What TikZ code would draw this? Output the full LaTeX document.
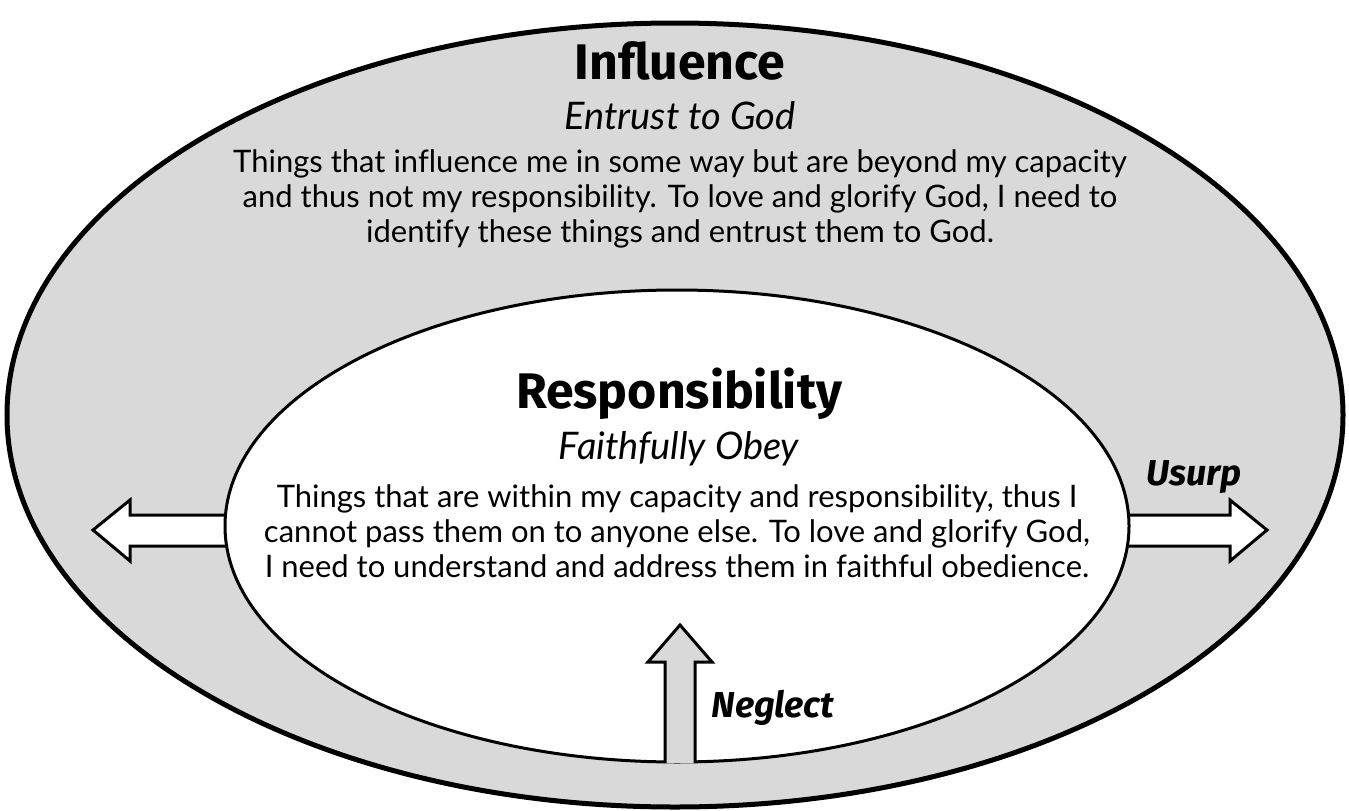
\documentclass[tikz,border=0pt]{standalone}
\usepackage{fontspec}
\setmainfont{Lato}[Ligatures=NoCommon]
\newfontfamily\headfont{Fira Sans}
\usetikzlibrary{shapes.geometric}

\definecolor{ringgray}{HTML}{D9D9D9}

\begin{document}
\begin{tikzpicture}[
            x = 1pt, y = -1pt, % pixel-like units
            ring/.style = {ellipse, draw = black, inner sep = 0pt},
            head/.style = {font = \headfont\bfseries\fontsize{50}{54}\selectfont},
            sub/.style = {font = \itshape\fontsize{38}{42}\selectfont},
            body/.style = {align = center, font = \fontsize{31}{35}\selectfont},
            tag/.style = {font = \headfont\bfseries\itshape\fontsize{36}{40}\selectfont},
            blockarrow/.style = {draw = black, line width = 3pt, line join = miter}
        ]

        \useasboundingbox (0,0) rectangle (1349,811);

        % outer circle
        \node[ring, fill = ringgray, line width = 5pt,
              minimum width = 1336pt, minimum height = 784pt] (infl) at (675,415) {};

        % side arrows, drawn under the inner circle
        \draw[blockarrow, fill = white] (300,515) -- (130,515) -- (130,500) -- (93,530)
            -- (130,561) -- (130,546) -- (300,546) -- cycle;
        \draw[blockarrow, fill = white] (1060,515) -- (1230,515) -- (1230,500) -- (1267,530)
            -- (1230,561) -- (1230,546) -- (1060,546) -- cycle;

        % inner circle
        \node[ring, fill = white, line width = 3pt,
              minimum width = 904pt, minimum height = 472pt] (resp) at (677,526) {};

        % arrow from the bottom
        \draw[blockarrow, fill = ringgray] (665,763) -- (665,662) -- (648,662) -- (680,625)
            -- (712,662) -- (695,662) -- (695,763);

        \node[head] (infltitle) at (680,61) {Influence};
        \node[sub] (inflsub) at (680,116) {Entrust to God};
        \node[body] (infltext) at (680,199) {Things that influence me in some way but are beyond my capacity\\
            and thus not my responsibility. To love and glorify God, I need to\\
            identify these things and entrust them to God.};

        \node[head] (resptitle) at (679,394) {Responsibility};
        \node[sub] (respsub) at (679,449) {Faithfully Obey};
        \node[body] (resptext) at (677,531) {Things that are within my capacity and responsibility, thus I\\
            cannot pass them on to anyone else. To love and glorify God,\\
            I need to understand and address them in faithful obedience.};

        \node[tag] (usurp) at (1194,477) {Usurp};
        \node[tag, anchor = west] (neglect) at (708,708) {Neglect};

    \end{tikzpicture}
\end{document}
